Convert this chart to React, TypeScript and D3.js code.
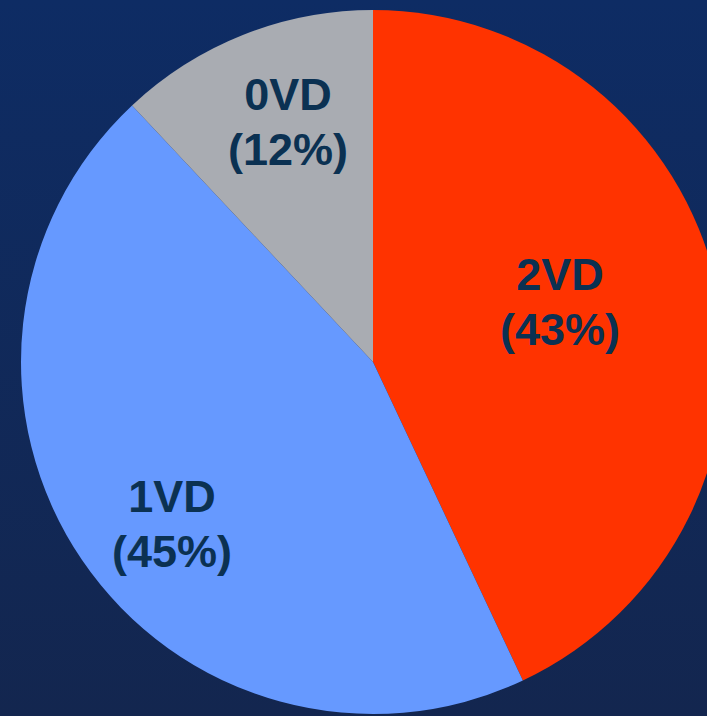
import React from "react";
import * as d3 from "d3";

const categories = ["2VD", "1VD", "0VD"];
const values = [43, 45, 12];
const colors = ["#FF3300", "#6699FF", "#A9ACB2"];
const labelPositions: [number, number][] = [
  [560, 290],
  [172, 512],
  [288, 110],
];

const W = 707;
const H = 716;
const cx = 373;
const cy = 362;
const R = 352;

export default function App() {
  const pie = d3
    .pie<number>()
    .sort(null)
    .value((d) => d)(values);
  const arc = d3.arc<d3.PieArcDatum<number>>().innerRadius(0).outerRadius(R);
  return (
    <div style={{ position: "fixed", left: 0, top: 0 }}>
      <svg width={W} height={H} style={{ display: "block" }}>
        <defs>
          <linearGradient id="bg" x1="0" y1="0" x2="0" y2="1">
            <stop offset="0" stopColor="#0E2C64" />
            <stop offset="1" stopColor="#13264F" />
          </linearGradient>
        </defs>
        <rect width={W} height={H} fill="url(#bg)" />
        <g transform={`translate(${cx},${cy})`}>
          {pie.map((p, i) => (
            <path key={categories[i]} d={arc(p) || ""} fill={colors[i]} />
          ))}
        </g>
        {pie.map((p, i) => {
          const [x, y] = labelPositions[i];
          return (
            <text
              key={"t" + categories[i]}
              x={x}
              y={y}
              textAnchor="middle"
              fill="#0B3152"
              fontFamily="'Liberation Sans', Arial, sans-serif"
              fontWeight="bold"
              fontSize={45}
            >
              <tspan x={x} dy={0}>{categories[i]}</tspan>
              <tspan x={x} dy={55}>({values[i]}%)</tspan>
            </text>
          );
        })}
      </svg>
    </div>
  );
}
